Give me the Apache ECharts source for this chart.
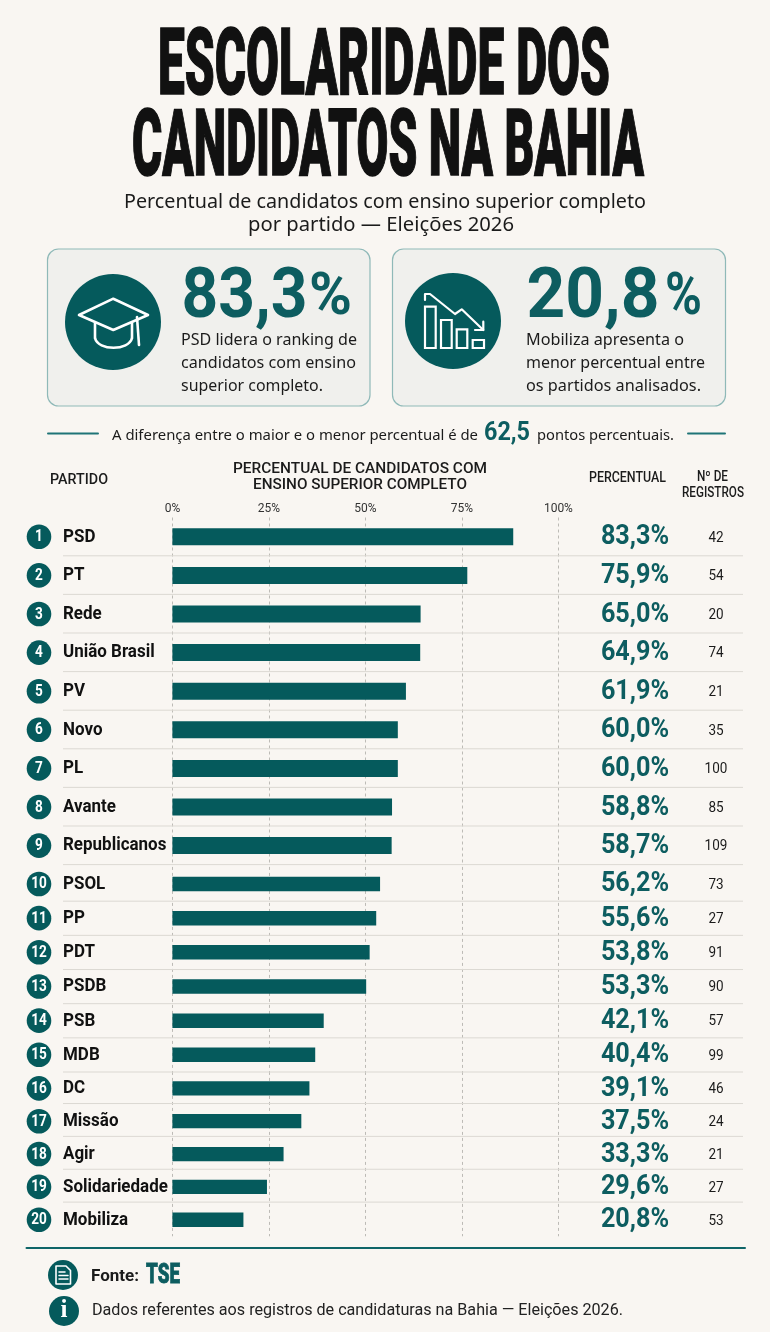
<!DOCTYPE html>
<html><head><meta charset="utf-8">
<style>html,body{margin:0;padding:0;background:#f9f6f2}#c{width:770px;height:1332px}</style>
<script src="https://cdn.jsdelivr.net/npm/echarts@6/dist/echarts.min.js"></script>
</head><body><div id="c"></div>
<script>
// Party order and printed figures, as shown in the picture
const parties = ['PSD','PT','Rede','União Brasil','PV','Novo','PL','Avante','Republicanos','PSOL','PP','PDT','PSDB','PSB','MDB','DC','Missão','Agir','Solidariedade','Mobiliza'];
const percentLabels = ['83,3%','75,9%','65,0%','64,9%','61,9%','60,0%','60,0%','58,8%','58,7%','56,2%','55,6%','53,8%','53,3%','42,1%','40,4%','39,1%','37,5%','33,3%','29,6%','20,8%'];
const registros = [42,54,20,74,21,35,100,85,109,73,27,91,90,57,99,46,24,21,27,53];
// Bar lengths as measured against the picture's own 0–100% axis (they differ from the printed figures)
const barLengths = [88.3,76.4,64.3,64.2,60.5,58.4,58.4,56.9,56.8,53.8,52.8,51.1,50.2,39.2,37.0,35.5,33.4,28.8,24.5,18.4];
const axisTicks = [0,25,50,75,100];

const TEAL='#055a5c', TEXT2='#0d5d60', INK='#1b1b1b', BG='#f9f6f2';
const COND='Roboto', SANS='"Noto Sans"';

const ctx=document.createElement('canvas').getContext('2d');
function fit(text,x,y,font,width,fill,extra){
  ctx.font=font; const w=ctx.measureText(text).width;
  return {type:'text',x:x,y:y,scaleX:width/w,z:5,
    style:Object.assign({text:text,x:0,y:0,font:font,fill:fill||INK,align:'left',verticalAlign:'middle'},extra||{})};
}
function line(x1,y1,x2,y2,color,w){return {type:'line',z:6,shape:{x1,y1,x2,y2},style:{stroke:color,lineWidth:w,lineCap:'round'}};}
function poly(points,w,closed){return {type:closed?'polygon':'polyline',z:6,shape:{points},style:{stroke:'#fff',fill:'none',lineWidth:w,lineJoin:'round',lineCap:'round'}};}
function box(x,y,w,h,sw){return {type:'rect',z:6,shape:{x,y,width:w,height:h},style:{stroke:'#fff',fill:'none',lineWidth:sw}};}
function card(x,y,w,h){return {type:'rect',z:1,shape:{x,y,width:w,height:h,r:11},style:{fill:'#f0f0ed',stroke:'#8fb9b8',lineWidth:1.2}};}
function disc(cx,cy,r){return {type:'circle',z:4,shape:{cx,cy,r},style:{fill:TEAL}};}

const TITLE='900 92px '+COND;
const titleExtra={stroke:'#111',lineWidth:1.5};
const BIG='700 70px Roboto', PCT='700 60px Roboto', BODY='15.5px '+SANS;
const HEAD='500 14.5px '+COND;

const graphics=[
  fit('ESCOLARIDADE DOS',158,71.3,TITLE,452,'#111',titleExtra),
  fit('CANDIDATOS NA BAHIA',132,152.3,TITLE,512,'#111',titleExtra),
  fit('Percentual de candidatos com ensino superior completo',124,203,'19px '+SANS,522,INK),
  fit('por partido — Eleições 2026',248,226,'19px '+SANS,266,INK),

  card(47.5,249,322.5,157), card(392.5,249,333,157),
  disc(113,322,48), disc(453,321,48),

  poly([[113.3,298.7],[148,315],[113.3,330],[79,315]],2.6,true),
  poly([[95,323],[95,338]],2.6), poly([[132,323],[132,338]],2.6),
  {type:'bezierCurve',z:6,shape:{x1:95,y1:338,x2:132,y2:338,cpx1:98,cpy1:351,cpx2:129,cpy2:351},style:{stroke:'#fff',fill:'none',lineWidth:2.6}},
  poly([[137,317],[139,345]],2.6),

  box(425,306.7,10.7,41.3,2.2), box(441,320,10.7,28,2.2), box(456.7,329.3,10.6,18.7,2.2), box(472.7,340,11.3,8,2.2),
  poly([[425,300],[425,294],[430,294],[455,314],[461.7,309.3],[483.3,330]],2.2),
  poly([[475,330],[483.3,330],[483.3,321.7]],2.2),

  fit('83,3',181.5,299,BIG,126,TEXT2), fit('%',309,299,PCT,43,TEXT2),
  fit('20,8',526.5,299,BIG,133,TEXT2), fit('%',665,299,PCT,37,TEXT2),

  fit('PSD lidera o ranking de',181,341,BODY,176,INK),
  fit('candidatos com ensino',181,364,BODY,175,INK),
  fit('superior completo.',181,387,BODY,142,INK),
  fit('Mobiliza apresenta o',526,341,BODY,158,INK),
  fit('menor percentual entre',526,364,BODY,179,INK),
  fit('os partidos analisados.',526,387,BODY,175,INK),

  line(48,433.5,98,433.5,'#1f7477',2), line(688,433.5,725,433.5,'#1f7477',2),
  fit('A diferença entre o maior e o menor percentual é de',112,436,'14.5px '+SANS,366,INK),
  fit('62,5',484,434,'700 25px Roboto',46,TEXT2),
  fit('pontos percentuais.',537,436,'14.5px '+SANS,137,INK),

  fit('PARTIDO',50,480,HEAD,58,INK),
  fit('PERCENTUAL DE CANDIDATOS COM',233,469,HEAD,254,INK),
  fit('ENSINO SUPERIOR COMPLETO',253,485,HEAD,214,INK),
  fit('PERCENTUAL',589,478,HEAD,77,INK),
  fit('Nº DE',697,477,HEAD,31,INK),
  fit('REGISTROS',682,493,HEAD,62,INK),

  line(26.5,1248,745,1248,'#0f6568',2),
  disc(63,1275,15), disc(64,1311,15),
  poly([[56,1266],[66,1266],[70.5,1270.5],[70.5,1284],[56,1284]],1.6,true),
  line(59,1272,65,1272,'#fff',1.5), line(59,1275.5,68,1275.5,'#fff',1.5), line(59,1279,68,1279,'#fff',1.5),
  {type:'text',x:64,y:1311,z:6,style:{text:'i',x:0,y:0,font:'bold 25px "Liberation Serif"',fill:'#fff',align:'center',verticalAlign:'middle'}},

  fit('Fonte:',91,1277,'700 17px '+COND,48,INK),
  fit('TSE',146,1276,'900 27px '+COND,34,TEXT2,{stroke:TEXT2,lineWidth:0.8}),
  fit('Dados referentes aos registros de candidaturas na Bahia — Eleições 2026.',92,1311,'16px Roboto',531,'#222')
];

// The picture's rows come in three rhythms, so each block gets its own grid
const sections=[
  {from:0,to:9,top:517.5,height:347.4,barWidth:17,sep:19},
  {from:9,to:15,top:866.9,height:205,barWidth:14.5,sep:17.2},
  {from:15,to:20,top:1071.9,height:164.3,barWidth:14.3,sep:15.2}
];

function squeezed(text,x,y,font,scale,fill,align){
  return {type:'text',x:x,y:y,scaleX:scale,style:{text:text,x:0,y:0,font:font,fill:fill,align:align,verticalAlign:'middle'}};
}
function rowRenderer(sec){
  return function(params,api){
    const row=api.value(1);
    const y=api.coord([0,row])[1];
    const idx=sec.from+row;
    const kids=[
      {type:'circle',shape:{cx:39,cy:y,r:12.3},style:{fill:TEAL}},
      squeezed(String(idx+1),39,y+0.5,'700 16px '+COND,0.85,'#fff','center'),
      squeezed(parties[idx],63,y+0.5,'700 17.5px '+COND,0.97,'#111','left'),
      squeezed(percentLabels[idx],635,y+0.5,'700 28px '+COND,0.9,TEXT2,'center'),
      squeezed(String(registros[idx]),716,y+1,'400 15px '+COND,0.9,'#1b1b1b','center')
    ];
    if(idx<parties.length-1){
      kids.unshift({type:'line',shape:{x1:63,y1:y+sec.sep,x2:743,y2:y+sec.sep},style:{stroke:'#dcd9d3',lineWidth:1}});
    }
    return {type:'group',children:kids};
  };
}

const grid=sections.map(s=>({left:172.4,width:386,top:s.top,height:s.height}));
const xAxis=sections.map((s,k)=>({
  type:'value',gridIndex:k,min:axisTicks[0],max:axisTicks[axisTicks.length-1],interval:axisTicks[1]-axisTicks[0],position:'top',
  axisLine:{show:false},axisTick:{show:false},
  axisLabel:{show:k===0,margin:3,formatter:'{value}%',fontFamily:'Roboto',fontSize:12,color:'#333'},
  splitLine:{show:true,lineStyle:{type:[3,3],color:'#bdbbb6',width:1}}
}));
const yAxis=sections.map((s,k)=>({
  type:'category',gridIndex:k,inverse:true,data:parties.slice(s.from,s.to),
  axisLine:{show:false},axisTick:{show:false},axisLabel:{show:false},splitLine:{show:false}
}));
const series=[];
sections.forEach((s,k)=>{
  series.push({type:'custom',xAxisIndex:k,yAxisIndex:k,clip:false,silent:true,z:1,renderItem:rowRenderer(s),
    encode:{x:0,y:1},data:parties.slice(s.from,s.to).map((p,r)=>[0,r])});
  series.push({type:'bar',xAxisIndex:k,yAxisIndex:k,barWidth:s.barWidth,z:3,silent:true,
    itemStyle:{color:TEAL},data:barLengths.slice(s.from,s.to)});
});

const chart=echarts.init(document.getElementById('c'),null,{renderer:'canvas',width:770,height:1332});
chart.setOption({animation:false,backgroundColor:BG,tooltip:{show:false},grid,xAxis,yAxis,series,graphic:{elements:graphics}});
</script></body></html>
